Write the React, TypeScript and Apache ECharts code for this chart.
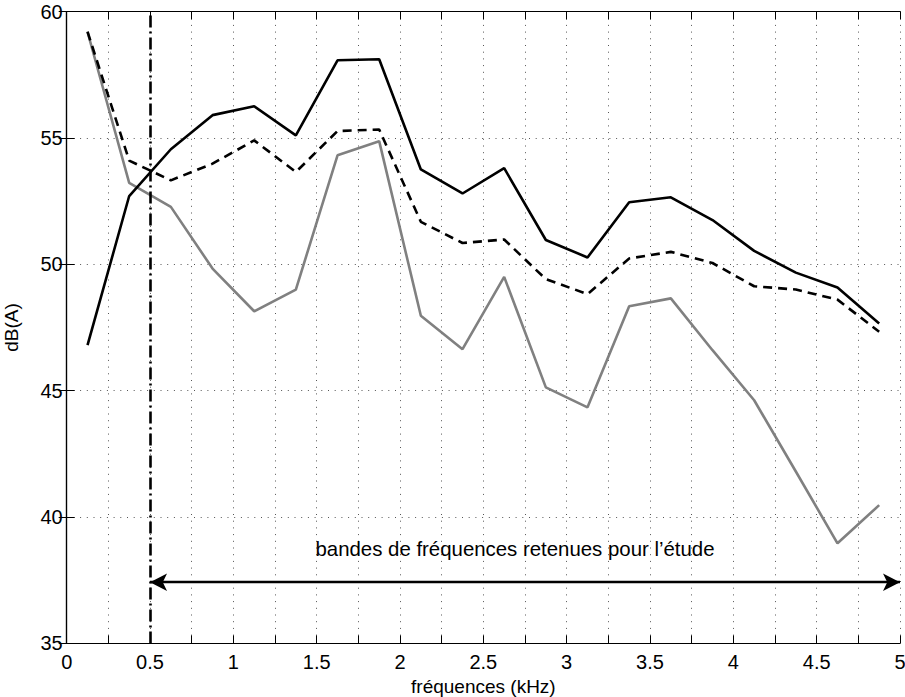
import React, { useEffect, useRef } from "react";
import * as echarts from "echarts";

const freqs = [0.125, 0.375, 0.625, 0.875, 1.125, 1.375, 1.625, 1.875, 2.125, 2.375, 2.625, 2.875, 3.125, 3.375, 3.625, 3.875, 4.125, 4.375, 4.625, 4.875];
const solidBlack = [46.8, 52.7, 54.55, 55.9, 56.25, 55.1, 58.07, 58.11, 53.75, 52.8, 53.8, 50.96, 50.27, 52.45, 52.65, 51.75, 50.53, 49.67, 49.08, 47.66];
const dashedBlack = [59.2, 54.1, 53.32, 53.98, 54.9, 53.65, 55.27, 55.33, 51.68, 50.84, 50.98, 49.41, 48.82, 50.23, 50.49, 50.05, 49.13, 49.0, 48.6, 47.33];
const grayLine = [59.19, 53.22, 52.27, 49.83, 48.14, 49.0, 54.31, 54.87, 47.96, 46.64, 49.5, 45.13, 44.34, 48.34, 48.65, 46.6, 44.62, 41.8, 38.96, 40.47];

const xTitle = "fréquences (kHz)";
const yTitle = "dB(A)";
const bandText = "bandes de fréquences retenues pour l’étude";
const cutoffFreq = 0.5;
const bandStart = 0.5;
const bandEnd = 5;
const arrowLevel = 37.42;
const textPos = [2.69, 38.73];

const FONT = "Liberation Sans";

export default function App() {
  const ref = useRef<HTMLDivElement>(null);
  useEffect(() => {
    if (!ref.current) return;
    const chart = echarts.init(ref.current, undefined, { renderer: "svg" });
    const pairs = (ys: number[]) => freqs.map((f, i) => [f, ys[i]]);
    const gridLine = { show: true, lineStyle: { color: "#555", type: [1, 5.7] as any, width: 1 } };
    const tick = { show: true, inside: true, length: 8, lineStyle: { color: "#000", width: 1 } };
    const axLine = { show: true, lineStyle: { color: "#000", width: 1.2 } };
    chart.setOption({
      animation: false,
      textStyle: { fontFamily: FONT },
      grid: { left: 66.7, right: 5, top: 11.5, bottom: 53.6, containLabel: false, outerBoundsMode: "none" },
      xAxis: [
        {
          type: "value", min: 0, max: 5, interval: 0.25, position: "bottom",
          axisLine: axLine, axisTick: tick, splitLine: gridLine,
          axisLabel: {
            show: true, margin: 9, color: "#000", fontSize: 20, fontFamily: FONT,
            showMinLabel: true, showMaxLabel: true,
            formatter: (v: number) => (Math.abs(v * 2 - Math.round(v * 2)) < 1e-6 ? String(Math.round(v * 100) / 100) : ""),
          },
          name: xTitle, nameLocation: "middle", nameGap: 31,
          nameTextStyle: { color: "#000", fontSize: 19, fontFamily: FONT },
        },
        {
          type: "value", min: 0, max: 5, interval: 0.25, position: "top",
          axisLine: axLine, axisTick: tick, splitLine: { show: false }, axisLabel: { show: false },
        },
      ],
      yAxis: [
        {
          type: "value", min: 35, max: 60, interval: 5, position: "left",
          axisLine: axLine, axisTick: tick, splitLine: gridLine,
          axisLabel: { show: true, margin: 4, color: "#000", fontSize: 20, fontFamily: FONT },
          name: yTitle, nameLocation: "middle", nameGap: 46, nameRotate: 90,
          nameTextStyle: { color: "#000", fontSize: 19, fontFamily: FONT },
        },
        {
          type: "value", min: 35, max: 60, interval: 5, position: "right",
          axisLine: axLine, axisTick: tick, splitLine: { show: false }, axisLabel: { show: false },
        },
      ],
      series: [
        {
          type: "line", name: "gris", data: pairs(grayLine), symbol: "none", silent: true,
          lineStyle: { color: "#808080", width: 2.6 },
        },
        {
          type: "line", name: "tirets", data: pairs(dashedBlack), symbol: "none", silent: true,
          lineStyle: { color: "#000", width: 2.6, type: [9, 6] as any },
          markLine: {
            silent: true,
            label: { show: false },
            emphasis: { disabled: true },
            symbol: ["none", "none"],
            lineStyle: { color: "#000", width: 2.6, type: [12, 4, 2, 4] as any },
            data: [{ xAxis: cutoffFreq }],
          },
        },
        {
          type: "line", name: "continu", data: pairs(solidBlack), symbol: "none", silent: true,
          lineStyle: { color: "#000", width: 2.6 },
          markLine: {
            silent: true,
            label: { show: false },
            emphasis: { disabled: true },
            symbol: ["arrow", "arrow"],
            symbolSize: [13, 17],
            lineStyle: { color: "#000", width: 2.4, type: "solid" },
            data: [
              [
                { coord: [bandStart, arrowLevel] },
                { coord: [bandEnd, arrowLevel] },
              ],
            ],
          },
          markPoint: {
            silent: true,
            data: [
              {
                coord: textPos, symbol: "circle", symbolSize: 1,
                itemStyle: { color: "rgba(0,0,0,0)" },
                label: { show: true, position: "inside", formatter: bandText, color: "#000", fontSize: 20.4, fontFamily: FONT },
              },
            ],
          },
        },
      ],
    });
    return () => chart.dispose();
  }, []);
  return <div ref={ref} style={{ position: "fixed", left: 0, top: 0, width: 905, height: 697, background: "#fff" }} />;
}
